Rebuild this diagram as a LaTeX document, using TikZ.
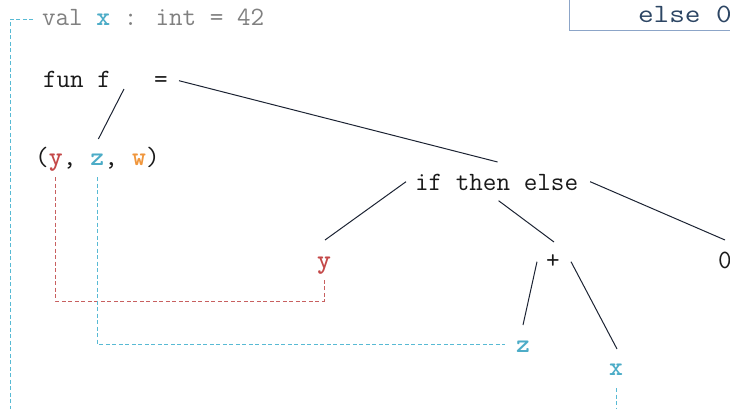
\documentclass[tikz,border=0pt]{standalone}
\usepackage{graphicx}
\usetikzlibrary{calc}
\definecolor{ink}{RGB}{26,26,26}
\definecolor{linecol}{RGB}{28,35,51}
\definecolor{graytext}{RGB}{128,128,128}
\definecolor{cyantext}{RGB}{76,172,199}
\definecolor{cyanline}{RGB}{88,186,212}
\definecolor{redtext}{RGB}{196,72,72}
\definecolor{redline}{RGB}{200,96,96}
\definecolor{orangetext}{RGB}{240,150,60}
\definecolor{elsecol}{RGB}{45,70,100}
\definecolor{boxcol}{RGB}{140,165,200}
\begin{document}
\begin{tikzpicture}[x=1pt,y=-1pt]
\tikzset{
  lbl/.style={inner sep=0pt, outer sep=0pt, text=ink, font=\fontsize{26.4}{30}\selectfont\ttfamily},
  lblb/.style={lbl, font=\fontsize{26.4}{30}\selectfont\ttfamily\bfseries},
  edge/.style={draw=linecol, line width=1pt},
  cyandash/.style={draw=cyanline, line width=1pt, dash pattern=on 4pt off 2.5pt},
  reddash/.style={draw=redline, line width=1pt, dash pattern=on 4pt off 2.5pt},
}
\useasboundingbox (0,0) rectangle (730,409);
\clip (0,0) rectangle (730,409);
% top-right fragment box
\node[draw=boxcol, line width=1pt, minimum width=200pt, minimum height=60pt, inner sep=0pt, anchor=south west] (frame) at (569,30.7) {};
\node[lbl, text=elsecol, anchor=base west] (els) at (638,23) {\scalebox{1.15}[1]{else 0}};
% labels
\node[lbl, text=graytext, anchor=base west] (val) at (42,26) {val \textcolor{cyantext}{\bfseries x} : int = 42};
\node[lbl, anchor=base west] (funf) at (43,88) {fun f};
\node[lbl, anchor=base] (eq) at (161,88) {=};
\node[lbl, anchor=base] (lp) at (41.9,165) {(};
\node[lblb, text=redtext, anchor=base] (ty) at (55.8,165) {y};
\node[lbl, anchor=base] (c1) at (69.6,165) {,};
\node[lblb, text=cyantext, anchor=base] (tz) at (97.4,165) {z};
\node[lbl, anchor=base] (c2) at (111.2,165) {,};
\node[lblb, text=orangetext, anchor=base] (tw) at (139,165) {w};
\node[lbl, anchor=base] (rp) at (152.8,165) {)};
\node[lbl, anchor=base west] (ite) at (415,190) {if then else};
\node[lblb, text=redtext, anchor=base] (ry) at (324,268) {y};
\node[lbl, anchor=base] (plus) at (553,268) {+};
\node[lbl, anchor=base] (zero) at (725,268) {0};
\node[lblb, text=cyantext, anchor=base] (nz) at (523,352) {z};
\node[lblb, text=cyantext, anchor=base] (nx) at (616,375) {x};
\coordinate (bl) at (10,414);
\coordinate (xb) at (616,414);
% tree edges
\draw[edge] ([shift={(13,1)}]funf.base east) -- ([shift={(1,-26)}]tz.base);
\draw[edge] ([shift={(18,-7.3)}]eq.base) -- ([shift={(1,-28)}]ite.base);
\draw[edge] ([shift={(-9,-8.3)}]ite.base west) -- ([shift={(1,-28)}]ry.base);
\draw[edge] ([shift={(2,10.7)}]ite.base) -- ([shift={(1,-26)}]plus.base);
\draw[edge] ([shift={(12,-8.3)}]ite.base east) -- ([shift={(0,-28)}]zero.base);
\draw[edge] ([shift={(-16,-6.3)}]plus.base) -- ([shift={(0,-27)}]nz.base);
\draw[edge] ([shift={(18,-6.3)}]plus.base) -- ([shift={(1,-26)}]nx.base);
% binding links
\draw[cyandash] ([shift={(-9,-6.7)}]val.base west) -| (bl);
\draw[reddash] ([shift={(0,12)}]ty.base) |- ([shift={(0,33)}]ry.base) -- ([shift={(0,10)}]ry.base);
\draw[cyandash] ([shift={(0,12)}]tz.base) |- ([shift={(-18,-8)}]nz.base);
\draw[cyandash] ([shift={(0,13)}]nx.base) -- (xb);
\end{tikzpicture}
\end{document}
